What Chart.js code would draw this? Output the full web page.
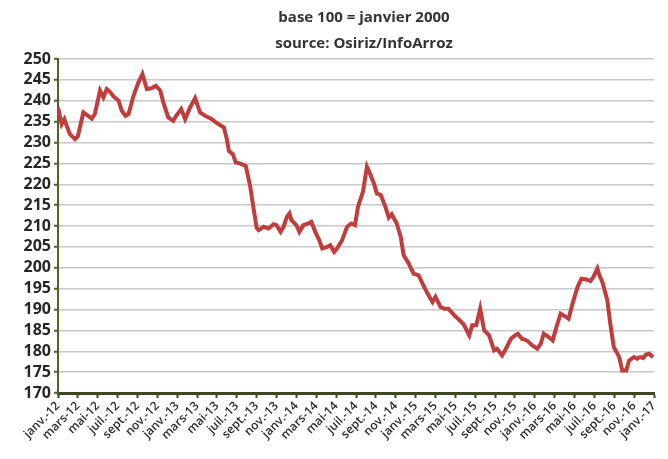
<!DOCTYPE html>
<html>
<head>
<meta charset="utf-8">
<script src="https://cdn.jsdelivr.net/npm/chart.js@4"></script>
<style>
  html, body { margin: 0; padding: 0; background: #fff; }
  #wrap { width: 668px; height: 459px; position: relative; }
</style>
</head>
<body>
<div id="wrap"><canvas id="riceChart"></canvas></div>
<script>
// months since janv. 2012 (weekly-ish readings)
var months = [
  0, 0.37, 0.64, 0.88, 1.2, 1.71, 2, 2.55, 2.9, 3.4, 3.7, 4.23, 4.57, 4.9, 5.2, 5.68,
  6.1, 6.42, 6.8, 7.1, 7.6, 8.1, 8.5, 8.94, 9.4, 9.85, 10.3, 10.6, 11.1, 11.6, 11.9,
  12.4, 12.8, 13.3, 13.8, 14.3, 14.8, 15.5, 15.9, 16.7, 17, 17.2, 17.6, 17.9, 18.3,
  18.9, 19.35, 19.7, 20, 20.2, 20.7, 21.2, 21.7, 22, 22.4, 22.7, 23.05, 23.3, 23.5,
  24, 24.3, 24.7, 25.2, 25.5, 25.9, 26.3, 26.6, 27.1, 27.4, 27.8, 28.2, 28.6, 29.1,
  29.5, 29.9, 30.2, 30.7, 31.1, 31.4, 31.8, 32.1, 32.5, 32.96, 33.3, 33.6, 34.1,
  34.5, 34.8, 35.3, 35.8, 36.3, 36.7, 37.2, 37.7, 38, 38.5, 38.9, 39.3, 39.9, 40.35,
  40.85, 41.4, 41.7, 42.1, 42.5, 42.9, 43.4, 43.9, 44.2, 44.7, 45, 45.6, 46, 46.3,
  46.7, 47.2, 47.75, 48.25, 48.6, 48.9, 49.4, 49.8, 50.2, 50.6, 50.9, 51.4, 51.8,
  52.3, 52.7, 53.2, 53.6, 53.9, 54.3, 54.5, 54.8, 55.3, 55.6, 55.95, 56.5, 56.8,
  57.2, 57.5, 57.98, 58.3, 58.6, 58.9, 59.2, 59.5, 59.9
];
var indexValues = [
  238.4, 234.4, 235.6, 234.0, 232.0, 230.8, 231.5, 237.2, 236.6, 235.7, 236.8, 242.4, 240.8, 242.8, 242.2, 240.8,
  240.0, 237.6, 236.4, 236.8, 241.2, 244.4, 246.4, 242.8, 243.0, 243.6, 242.4, 239.6, 236.0, 235.2, 236.4,
  238.0, 235.6, 238.4, 240.6, 237.2, 236.4, 235.6, 234.8, 233.6, 230.8, 228.0, 227.2, 225.2, 225.0,
  224.4, 219.5, 214.0, 209.5, 209.0, 209.8, 209.4, 210.4, 210.2, 208.6, 209.8, 212.2, 213.0, 211.4,
  210.2, 208.6, 210.2, 210.6, 211.0, 208.6, 206.6, 204.6, 205.0, 205.4, 203.8, 205.0, 206.6, 209.8,
  210.6, 210.2, 214.6, 218.2, 224.2, 222.6, 220.2, 217.8, 217.4, 214.6, 212.0, 212.8, 210.6,
  207.4, 203.0, 201.0, 198.6, 198.2, 196.2, 193.8, 191.8, 193.0, 190.6, 190.2, 190.2, 188.6, 187.6,
  186.4, 183.8, 186.2, 186.2, 190.2, 185.0, 183.8, 180.2, 180.6, 179.0, 180.2, 183.0, 183.8, 184.2,
  183.0, 182.6, 181.4, 180.6, 181.8, 184.2, 183.4, 182.6, 186.0, 189.0, 188.6, 187.8, 191.4,
  195.4, 197.4, 197.2, 196.8, 197.8, 199.8, 198.2, 196.6, 192.2, 186.6, 181.0, 178.6, 175.4,
  175.4, 177.8, 178.6, 178.2, 178.6, 178.4, 179.2, 179.4, 178.6
];
var monthLabels = [
  'janv.-12', 'mars-12', 'mai-12', 'juil.-12', 'sept.-12', 'nov.-12',
  'janv.-13', 'mars-13', 'mai-13', 'juil.-13', 'sept.-13', 'nov.-13',
  'janv.-14', 'mars-14', 'mai-14', 'juil.-14', 'sept.-14', 'nov.-14',
  'janv.-15', 'mars-15', 'mai-15', 'juil.-15', 'sept.-15', 'nov.-15',
  'janv.-16', 'mars-16', 'mai-16', 'juil.-16', 'sept.-16', 'nov.-16',
  'janv.-17'
];
var subtitleLines = ['base 100 = janvier 2000', 'source: Osiriz/InfoArroz'];

var points = months.map(function(m, i) {
    return { x: m, y: indexValues[i] };
});

// header text sits a bit right of the canvas centre
var headerText = {
    id: 'headerText',
    afterDraw: function(chart) {
        var c = chart.ctx;
        c.save();
        c.fillStyle = '#333333';
        c.font = 'bold 15px "Open Sans"';
        c.textAlign = 'center';
        c.textBaseline = 'middle';
        c.fillText(subtitleLines[0], 364, 18);
        c.fillText(subtitleLines[1], 364, 44);
        c.restore();
    }
};

var ctx = document.getElementById('riceChart').getContext('2d');
var riceChart = new Chart(ctx, {
    type: 'line',
    data: {
        datasets: [{
            label: 'Indice',
            data: points,
            borderColor: '#bf3d3d',
            borderWidth: 4,
            pointRadius: 0,
            tension: 0,
            fill: false
        }]
    },
    options: {
        responsive: true,
        maintainAspectRatio: false,
        animation: false,
        layout: {
            padding: { top: 59, right: 14, bottom: 0, left: 0 }
        },
        plugins: {
            legend: { display: false },
            tooltip: { enabled: false }
        },
        scales: {
            x: {
                type: 'linear',
                min: 0,
                max: 60,
                offset: false,
                afterFit: function(scale) { scale.height = 66; },
                grid: {
                    drawOnChartArea: false,
                    drawTicks: true,
                    tickLength: 5,
                    tickColor: '#3a4720',
                    tickWidth: 2
                },
                border: { color: '#3a4720', width: 3 },
                ticks: {
                    stepSize: 2,
                    autoSkip: false,
                    minRotation: 45,
                    maxRotation: 45,
                    padding: 1,
                    color: '#2b2b2b',
                    font: { family: 'Open Sans', size: 12, weight: '600' },
                    callback: function(value) {
                        return monthLabels[Math.round(value / 2)];
                    }
                }
            },
            y: {
                min: 170,
                max: 250,
                afterFit: function(scale) { scale.width = 58; },
                grid: {
                    color: '#c8c8c8',
                    lineWidth: 1.5,
                    drawTicks: true,
                    tickLength: 4,
                    tickColor: '#4d6128',
                    tickWidth: 2
                },
                border: { color: '#4d6128', width: 2 },
                ticks: {
                    stepSize: 5,
                    autoSkip: false,
                    padding: 3,
                    color: '#262626',
                    font: { family: 'Open Sans', size: 16, weight: 'bold' }
                }
            }
        }
    },
    plugins: [headerText]
});
</script>
</body>
</html>
